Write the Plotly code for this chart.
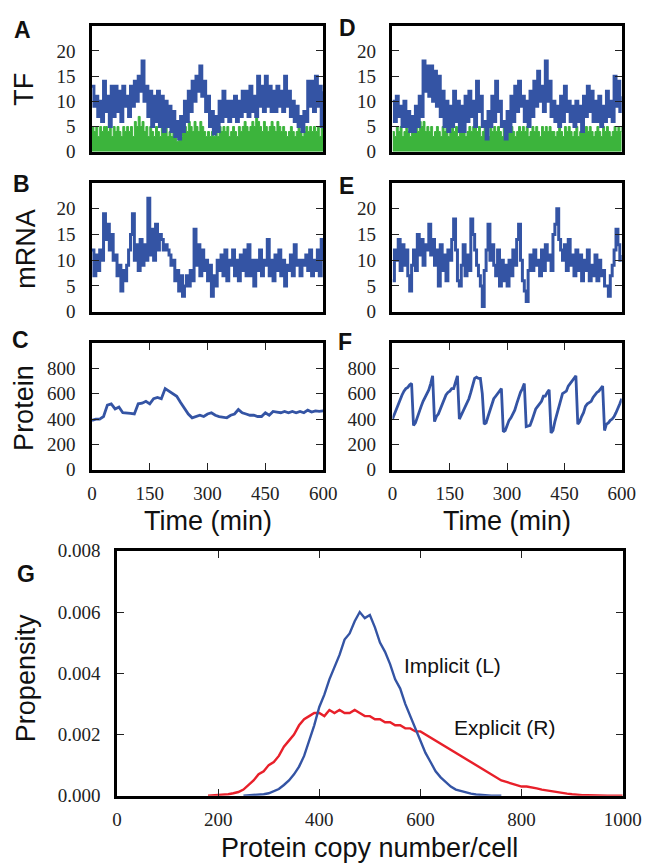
import plotly.graph_objects as go

# ---------------- data ----------------
# time series sampled every 5 min (0..600)
tf_A_blue = [13,9,11,7,10,6, 14,8,11,5,13,7, 13,8,12,6,13,9, 11,7,13,9,14,10,
             15,12,18,10,13,7, 12,5,11,6,12,5, 11,4,10,5,9,4, 8,3,6,2.5,7,4,
             10,6,12,8,14,10, 15,12,17,11,14,8, 11,5,8,3.5,7,4, 10,6,12,7,10,6,
             10,7,11,6,10,7, 12,8,12,7,13,8, 11,7,15,9,13,8, 15,9,13,8,12,8,
             13,9,12,8,15,9, 12,7,10,6,9,5, 7,4,8,6,14,9, 14,8,15,9,13,5, 12]
tf_A_green = [5,4,5,3,5,4, 5,5,4,5,3,5, 4,5,4,3,5,4, 5,4,5,3,6,5,
              7,5,6,4,5,3, 5,4,3,5,4,3, 5,4,5,3,4,3, 4,3,2,4,3,4,
              5,4,6,5,4,6, 5,4,6,5,4,3, 4,3,4,3,4,3, 5,4,5,4,5,3,
              4,5,4,3,5,4, 5,6,5,4,5,6, 5,7,6,5,4,6, 5,4,5,6,5,4,
              6,5,4,5,4,3, 4,5,4,3,4,5, 4,3,4,5,4,5, 4,5,4,5,3,5, 4]
tf_D_blue = [10,6,11,7,9,5, 10,5,8,4,7,4, 9,5,11,7,18,12, 17,11,17,10,16,9,
             15,7,12,5,10,4, 9,5,12,6,10,4, 9,4,11,6,12,7, 10,5,14,8,11,5,
             6,2.5,8,5,11,6, 14,8,10,5,6,2.5, 8,4,11,6,13,8, 14,9,11,6,10,5,
             12,7,14,9,16,10, 13,8,18,10,14,7, 10,6,9,5,11,6, 13,8,10,6,9,5,
             10,6,9,4,11,7, 13,8,12,6,10,6, 11,5,9,6,12,7, 10,6,15,9,14,8, 11]
tf_D_green = [4,3,5,4,5,3, 4,5,4,3,5,4, 5,4,6,5,6,4, 5,4,5,3,4,5,
              4,3,5,4,5,3, 4,5,4,5,3,4, 5,4,3,4,5,4, 5,6,4,5,3,4,
              5,4,3,5,4,5, 4,5,4,3,5,4, 5,4,5,4,3,4, 5,4,5,4,5,3,
              4,5,4,5,4,3, 5,4,5,4,5,4, 4,3,4,5,4,3, 5,4,5,4,3,4,
              5,3,4,5,4,5, 4,5,4,3,4,5, 4,3,5,4,5,4, 3,4,5,4,5,4, 5]
mrna_B = [12,7,11,8,12,10, 19,14,17,12,15,10, 11,7,9,4,8,6, 9,12,15,19,10,13,
          8,14,9,13,10,22, 11,16,10,17,12,15, 14,12,13,12,11,9, 10,6,8,4,7,3,
          5,7,5,8,6,16, 9,13,7,12,8,10, 6,9,3,7,5,10, 8,11,7,12,6,10,
          9,12,7,10,6,11, 8,12,7,13,7,10, 5,10,8,12,7,10, 9,14,7,10,6,11,
          8,12,7,10,5,9, 8,11,7,13,9,10, 7,10,9,11,8,12, 7,10,8,12,7,14, 10]
mrna_E = [6,12,10,14,8,13, 9,12,7,4,9,12, 8,15,11,14,9,13, 12,17,11,14,9,12,
          5,13,8,11,6,12, 10,14,18,12,6,5, 9,13,7,11,8,18, 15,12,9,7,5,1,
          8,12,17,10,13,9, 7,12,5,10,6,9, 5,10,7,12,9,14, 17,10,6,4,2,8,
          11,8,12,9,10,7, 12,8,13,10,11,8, 15,17,20,14,12,10, 13,8,14,9,11,7,
          12,8,11,6,10,8, 12,6,9,7,11,6, 10,7,8,5,5,3, 7,9,12,16,13,10, 11]
# protein, panel C every 10 min
protein_C = [390,400,400,420,510,520,480,495,450,450,445,440,520,525,540,520,
             560,570,560,640,620,605,580,530,480,440,410,420,430,420,440,450,
             430,420,415,410,430,440,475,450,440,430,430,420,420,450,430,460,
             455,450,460,450,460,450,460,450,470,455,465,460,465]
# protein, panel F every 5 min
protein_F = [400,440,480,520,560,590,620,640,650,670,680,350,370,420,460,500,
             540,570,600,630,680,740,380,420,440,480,520,560,590,610,620,640,
             640,690,740,400,430,460,500,520,560,610,660,720,730,720,720,600,
             360,370,420,470,520,560,580,600,620,640,300,310,350,390,410,440,
             470,520,570,610,640,680,340,345,350,390,440,480,500,520,540,580,
             580,610,630,290,310,380,430,480,540,600,610,620,660,680,700,720,
             740,360,380,420,450,500,520,530,540,570,590,610,620,640,660,310,
             360,370,390,400,420,450,480,520,560]
# panel G distributions
implicit_x = list(range(250, 761, 10))
implicit_y = [0,0.00001,0.00002,0.00003,0.00005,0.00008,0.00014,0.00022,0.00035,
              0.0005,0.0007,0.00095,0.0013,0.0018,0.0023,0.0029,0.0033,0.0038,
              0.0042,0.0046,0.0051,0.0053,0.0057,0.0060,0.0058,0.0059,0.0055,
              0.0050,0.0047,0.0043,0.0038,0.0035,0.0030,0.0026,0.0022,0.0018,
              0.0014,0.0011,0.0008,0.0006,0.00045,0.0003,0.0002,0.00015,0.0001,
              0.00007,0.00004,0.00002,0.00001,0,0,0]
explicit_x = list(range(180, 1001, 10))
explicit_y = [0,0.00001,0.00002,0.00003,0.00005,0.00008,0.00012,0.0002,0.00035,
              0.0005,0.0007,0.0008,0.001,0.0011,0.0013,0.0016,0.0018,0.002,
              0.0023,0.0025,0.0026,0.0027,0.0027,0.0026,0.0028,0.0027,0.0028,
              0.0027,0.0027,0.0028,0.0027,0.0026,0.0026,0.0025,0.0025,0.0024,
              0.0024,0.0023,0.0023,0.0022,0.0022,0.0021,0.0021,0.0020,0.0019,
              0.0018,0.0017,0.0016,0.0015,0.0014,0.0013,0.0012,0.0011,0.001,
              0.0009,0.0008,0.0007,0.0006,0.0005,0.00045,0.0004,0.00035,0.0003,
              0.0003,0.00028,0.00024,0.0002,0.00017,0.00014,0.00011,0.00009,
              0.00007,0.00005,0.00003,0.00002,0.00002,0.00001,0.00001,0.00001,
              0,0,0,0]

time_ticks = [0, 150, 300, 450, 600]
count_ticks = [0, 5, 10, 15, 20]
protein_ticks = [0, 200, 400, 600, 800]
copy_ticks = [0, 200, 400, 600, 800, 1000]
prop_ticks = [0.000, 0.002, 0.004, 0.006, 0.008]

t5 = [5 * i for i in range(len(tf_A_blue))]
t10 = [10 * i for i in range(len(protein_C))]

# ---------------- style ----------------
W, H = 652, 868
BLUE = "#3454a4"
GREEN = "#3cb43c"
RED = "#e8202a"
SERIF = "'Times New Roman', 'Liberation Serif', 'DejaVu Serif', serif"
SANS = "Liberation Sans"

def xd(l, r):
    return [l / W, r / W]

def yd(t, b):
    return [1 - b / H, 1 - t / H]

fig = go.Figure()

def step_line(x, y, xa, ya, color, width=3.0):
    fig.add_trace(go.Scatter(x=x, y=y, mode="lines", line=dict(color=color, width=width, shape="hv"),
                             xaxis=xa, yaxis=ya, showlegend=False, hoverinfo="skip"))

def step_fill(x, y, xa, ya, color):
    fig.add_trace(go.Scatter(x=x, y=y, mode="lines", line=dict(color=color, width=1, shape="hv"),
                             fill="tozeroy", fillcolor=color,
                             xaxis=xa, yaxis=ya, showlegend=False, hoverinfo="skip"))

step_fill(t5, tf_A_green, "x", "y", GREEN)
step_line(t5, tf_A_blue, "x", "y", BLUE)
step_fill(t5, tf_D_green, "x2", "y2", GREEN)
step_line(t5, tf_D_blue, "x2", "y2", BLUE)
step_line(t5, mrna_B, "x3", "y3", BLUE)
step_line(t5, mrna_E, "x4", "y4", BLUE)
fig.add_trace(go.Scatter(x=t10, y=protein_C, mode="lines", line=dict(color=BLUE, width=2.8),
                         xaxis="x5", yaxis="y5", showlegend=False, hoverinfo="skip"))
fig.add_trace(go.Scatter(x=t5, y=protein_F, mode="lines", line=dict(color=BLUE, width=2.8),
                         xaxis="x6", yaxis="y6", showlegend=False, hoverinfo="skip"))
fig.add_trace(go.Scatter(x=explicit_x, y=explicit_y, mode="lines", line=dict(color=RED, width=2.4),
                         xaxis="x7", yaxis="y7", showlegend=False, hoverinfo="skip"))
fig.add_trace(go.Scatter(x=implicit_x, y=implicit_y, mode="lines", line=dict(color=BLUE, width=2.4),
                         xaxis="x7", yaxis="y7", showlegend=False, hoverinfo="skip"))

TICKFONT = dict(family=SERIF, size=19, color="#222")
common = dict(showline=True, linecolor="black", linewidth=2.6, mirror="allticks",
              ticks="inside", ticklen=7, tickwidth=1.3, tickcolor="#222",
              showgrid=False, zeroline=False, tickfont=TICKFONT)

panels = [
    ("", xd(82, 322), yd(8, 137), [0, 25], count_ticks, False),
    ("2", xd(394, 632), yd(8, 137), [0, 25], count_ticks, False),
    ("3", xd(82, 322), yd(169, 301), [0, 25], count_ticks, False),
    ("4", xd(394, 632), yd(169, 301), [0, 25], count_ticks, False),
    ("5", xd(82, 322), yd(333, 463), [0, 1000], protein_ticks, True),
    ("6", xd(394, 632), yd(333, 463), [0, 1000], protein_ticks, True),
]
layout = {}
for s, xdom, ydom, yr, yt, showx in panels:
    xa = dict(common, domain=xdom, anchor="y" + s, range=[0, 600],
              tickvals=time_ticks, ticktext=[str(v) for v in time_ticks],
              showticklabels=showx, ticks="inside" if showx else "",
              ticklabelstandoff=5)
    ya = dict(common, domain=ydom, anchor="x" + s, range=yr,
              tickvals=yt, ticktext=[str(v) for v in yt], ticklabelstandoff=10)
    layout["xaxis" + s] = xa
    layout["yaxis" + s] = ya

layout["xaxis7"] = dict(common, domain=xd(108, 633), anchor="y7", range=[0, 1000],
                        tickvals=copy_ticks, ticktext=[str(v) for v in copy_ticks],
                        ticklabelstandoff=5)
layout["yaxis7"] = dict(common, domain=yd(546, 797), anchor="x7", range=[0, 0.008],
                        tickvals=prop_ticks, ticktext=["%.3f" % v for v in prop_ticks],
                        ticklabelstandoff=10)

def txt(x, y, s, size, bold=False, angle=0, family=SANS, xanchor="center"):
    return dict(x=x / W, y=1 - y / H, xref="paper", yref="paper", text=("<b>%s</b>" % s) if bold else s,
                showarrow=False, textangle=angle, xanchor=xanchor, yanchor="middle",
                font=dict(family=family, size=size, color="#111"))

annotations = [
    txt(12, 73, "TF", 27, angle=-90),
    txt(14, 236, "mRNA", 27, angle=-90),
    txt(12, 400, "Protein", 27, angle=-90),
    txt(13, 677, "Propensity", 27, angle=-90),
    txt(202, 515, "Time (min)", 27),
    txt(513, 515, "Time (min)", 27),
    txt(370, 851, "Protein copy number/cell", 27),
    txt(10, 12, "A", 23, bold=True),
    txt(9, 170, "B", 23, bold=True),
    txt(8, 330, "C", 23, bold=True),
    txt(347, 10, "D", 23, bold=True),
    txt(346, 172, "E", 23, bold=True),
    txt(345, 332, "F", 23, bold=True),
    txt(13, 570, "G", 23, bold=True),
]
annotations.append(dict(x=563, y=0.00426, xref="x7", yref="y7", text="Implicit (L)", showarrow=False,
                        xanchor="left", yanchor="middle", font=dict(family=SANS, size=21, color="#111")))
annotations.append(dict(x=662, y=0.00224, xref="x7", yref="y7", text="Explicit (R)", showarrow=False,
                        xanchor="left", yanchor="middle", font=dict(family=SANS, size=21, color="#111")))

fig.update_layout(width=W, height=H, margin=dict(l=0, r=0, t=0, b=0),
                  paper_bgcolor="white", plot_bgcolor="white",
                  font=dict(family=SERIF, size=18, color="#222"),
                  annotations=annotations, **layout)

fig.write_html("out.html")
